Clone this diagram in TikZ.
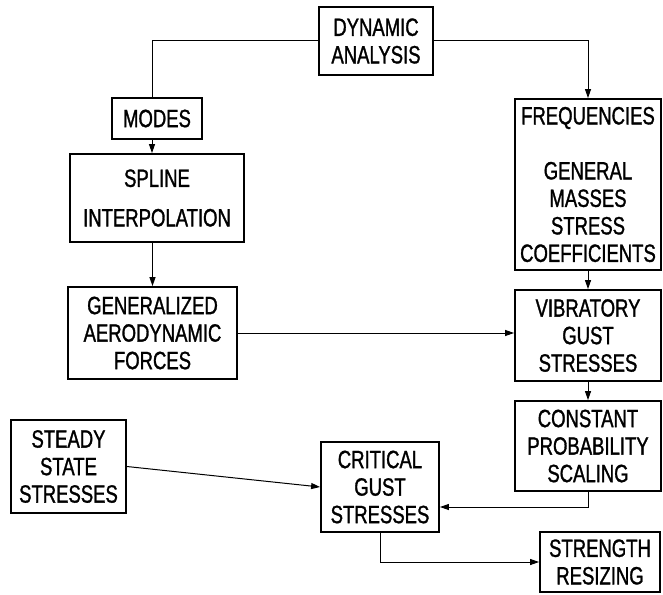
\documentclass[tikz,border=0pt]{standalone}
\usepackage{fontspec}
\setmainfont{Liberation Sans}[FakeStretch=0.74, FakeBold=1.2]
\usepackage{tikz}
\usetikzlibrary{arrows.meta, positioning}

\begin{document}
\begin{tikzpicture}[
  x=1pt, y=-1pt,
  block/.style={rectangle, draw, line width=1.8pt, inner sep=1pt,
                align=center, font=\fontsize{25}{27.5}\selectfont},
  arr/.style={-{Triangle[length=9pt, width=6pt]}, line width=1pt},
  link/.style={line width=1pt},
]
\useasboundingbox (0,0) rectangle (663,594);

\node[block, minimum width=114pt, minimum height=68pt] (dyn) at (376,41) {DYNAMIC\\ANALYSIS};
\node[block, minimum width=90pt, minimum height=41pt] (modes) at (157,118.5) {MODES};
\node[block, minimum width=174pt, minimum height=88pt] (spline) at (157,198) {SPLINE\\[12pt]INTERPOLATION};
\node[block, minimum width=169pt, minimum height=92pt] (gaf) at (152.5,333) {GENERALIZED\\AERODYNAMIC\\FORCES};
\node[block, minimum width=146pt, minimum height=171pt] (freq) at (588,184.5) {FREQUENCIES\\[27.5pt]GENERAL\\MASSES\\STRESS\\COEFFICIENTS};
\node[block, minimum width=146pt, minimum height=91pt] (vib) at (588,335.5) {VIBRATORY\\GUST\\STRESSES};
\node[block, minimum width=146pt, minimum height=90pt] (cps) at (588,446) {CONSTANT\\PROBABILITY\\SCALING};
\node[block, minimum width=115pt, minimum height=93pt] (steady) at (68.5,466.5) {STEADY\\STATE\\STRESSES};
\node[block, minimum width=118pt, minimum height=90pt] (crit) at (380,487) {CRITICAL\\GUST\\STRESSES};
\node[block, minimum width=120pt, minimum height=60pt] (resize) at (600,562) {STRENGTH\\RESIZING};

% branches out of the dynamic analysis
\draw[link] (dyn.west) -| ([xshift=-5pt]modes.north);
\draw[arr] (dyn.east) -| (freq.north);

% left column
\draw[arr] ([xshift=-5pt]modes.south) -- ([xshift=-5pt]modes.south |- spline.north);
\draw[arr] (spline.south -| gaf.north) -- (gaf.north);
\draw[arr] (gaf.east) -- (gaf.east -| vib.west);

% right column
\draw[arr] (freq.south) -- (vib.north);
\draw[arr] (vib.south) -- (cps.north);
\draw[arr] (cps.south) |- ([yshift=-20pt]crit.east);

% bottom
\draw[arr] (steady.east) -- (crit.west);
\draw[arr] (crit.south) |- (resize.west);

\end{tikzpicture}
\end{document}
